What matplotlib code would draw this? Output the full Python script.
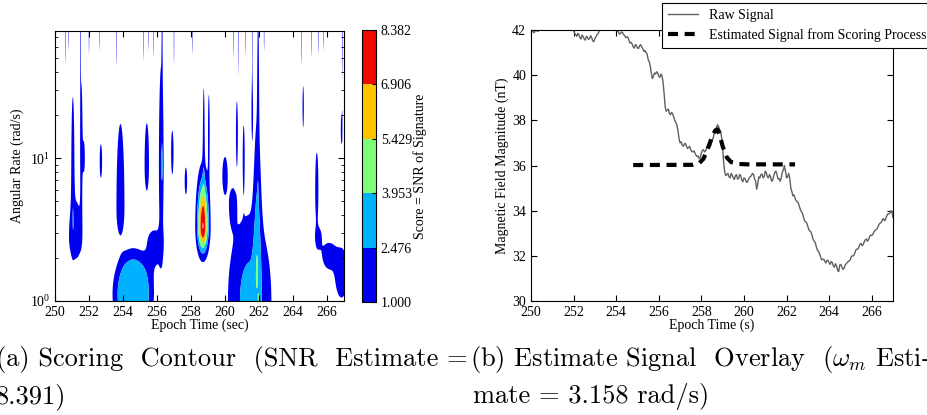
import numpy as np
import matplotlib
matplotlib.use('Agg')
import matplotlib.pyplot as plt

plt.rcParams['font.family'] = ['Liberation Serif', 'DejaVu Serif']
plt.rcParams['mathtext.fontset'] = 'stix'
plt.rcParams['xtick.direction'] = 'in'
plt.rcParams['ytick.direction'] = 'in'
plt.rcParams['xtick.top'] = True
plt.rcParams['ytick.right'] = True
plt.rcParams['xtick.major.size'] = 4
plt.rcParams['ytick.major.size'] = 4
plt.rcParams['xtick.minor.size'] = 2
plt.rcParams['ytick.minor.size'] = 2
plt.rcParams['font.size'] = 10

# score levels shown on the colour bar
levels = [1.000, 2.476, 3.953, 5.429, 6.906, 8.382]

# features of the scoring surface:
# centre time (s), centre log10 rate, width in t, spread down, spread up, peak score, profile exponent
blob_t = [251.2, 251.05, 251.55, 252.7, 253.85, 255.4, 256.25, 256.3, 254.6, 255.85,
          256.9, 257.7, 258.7, 258.75, 259.05, 260.0, 260.45, 260.7, 261.1, 261.6,
          261.45, 261.9, 261.95, 261.98, 265.4, 265.5, 266.1, 266.85, 264.6, 266.85,
          251.7]
blob_ly = [0.45, 0.95, 1.1, 0.98, 0.65, 0.95, 0.95, 0.95, 0.05, 0.4,
           1.04, 0.84, 0.52, 1.15, 1.2, 0.88, 0.68, 1.18, 1.03, 1.33,
           0.0, 0.5, 1.5, 0.0, 0.78, 0.45, 0.33, 0.2, 1.36, 1.2,
           1.0]
blob_st = [0.32, 0.07, 0.06, 0.06, 0.2, 0.11, 0.11, 0.04, 0.95, 0.35,
           0.06, 0.06, 0.22, 0.05, 0.05, 0.12, 0.15, 0.05, 0.05, 0.04,
           0.85, 0.16, 0.04, 0.04, 0.08, 0.15, 0.3, 0.3, 0.04, 0.04,
           0.05]
blob_sd = [0.13, 0.3, 0.3, 0.1, 0.16, 0.15, 0.45, 0.06, 0.3, 0.12,
           0.13, 0.08, 0.12, 0.25, 0.25, 0.1, 0.1, 0.2, 0.18, 0.15,
           0.3, 0.4, 0.4, 0.05, 0.2, 0.06, 0.08, 0.14, 0.15, 0.1,
           0.08]
blob_su = [0.21, 0.38, 0.35, 0.1, 0.5, 0.25, 0.55, 0.06, 0.25, 0.08,
           0.13, 0.08, 0.22, 0.35, 0.25, 0.1, 0.08, 0.2, 0.18, 0.15,
           0.4, 0.6, 0.5, 0.05, 0.22, 0.05, 0.06, 0.13, 0.15, 0.1,
           0.1]
blob_peak = [2.0, 2.2, 2.0, 2.0, 2.0, 2.0, 2.2, 1.2, 3.8, 2.0,
             2.0, 2.0, 8.39, 1.6, 1.6, 2.2, 2.0, 1.8, 1.8, 1.6,
             3.1, 2.2, 1.5, 0.6, 2.0, 2.0, 2.2, 2.2, 1.6, 1.6,
             1.8]
blob_p = [2, 2, 2, 2, 2, 2, 2, 2, 4, 2,
          2, 2, 2, 2, 2, 2, 2, 2, 2, 2,
          2, 2, 2, 2, 2, 2, 2, 2, 2, 2,
          2]

# faint slivers hanging from the top edge: time and how far down (log10 rate)
sliver_t = [250.6, 250.8, 251.5, 252.0, 252.6, 253.6, 255.2, 255.5, 255.8, 256.3, 257.0,
            258.1, 260.5, 260.8, 261.2, 261.6, 262.3, 264.5, 265.1, 265.5, 265.8, 266.9]
sliver_lo = [1.65, 1.75, 1.7, 1.72, 1.75, 1.7, 1.68, 1.75, 1.7, 1.5, 1.65,
             1.72, 1.7, 1.6, 1.72, 1.68, 1.75, 1.65, 1.7, 1.72, 1.75, 1.55]

# panel (b): raw magnetometer signal, samples on the 0.1 s marks from 250 s to 267 s
raw_b = [41.95, 41.92, 41.97, 41.94, 42.04, 42.20, 42.30, 42.40, 42.35, 42.50,
         42.45, 42.30, 42.45, 42.40, 42.30, 42.35, 42.20, 42.25, 42.10, 42.03,
         41.98, 41.80, 41.85, 41.65, 41.78, 41.60, 41.72, 41.58, 41.75, 41.52,
         41.62, 41.80, 41.95, 42.05, 42.20, 42.30, 42.25, 42.35, 42.20, 42.10,
         41.98, 41.92, 41.85, 41.88, 41.75, 41.70, 41.55, 41.45, 41.25, 41.35,
         41.20, 41.30, 41.25, 41.05, 41.00, 40.70, 40.40, 39.85, 40.10, 40.15,
         39.95, 40.05, 39.70, 38.60, 38.45, 38.30, 38.35, 38.15, 37.90, 37.55,
         37.00, 36.90, 36.95, 36.85, 36.80, 36.70, 36.60, 36.55, 36.40, 36.30,
         36.55, 36.70, 36.65, 36.85, 36.80, 37.10, 37.40, 37.65, 37.75, 37.55,
         36.80, 35.70, 35.60, 35.50, 35.65, 35.45, 35.55, 35.40, 35.60, 35.35,
         35.45, 35.30, 35.35, 35.50, 35.65, 35.40, 34.95, 35.50, 35.60, 35.45,
         35.75, 35.50, 35.60, 35.30, 35.55, 35.75, 35.40, 35.30, 35.70, 36.00,
         35.45, 35.65, 35.00, 34.65, 34.55, 34.40, 34.20, 33.95, 33.70, 33.50,
         33.30, 33.10, 32.90, 32.65, 32.40, 32.20, 31.95, 31.85, 31.75, 31.80,
         31.70, 31.75, 31.55, 31.65, 31.35, 31.60, 31.50, 31.45, 31.65, 31.75,
         31.85, 32.00, 32.10, 32.30, 32.40, 32.55, 32.50, 32.70, 32.65, 32.85,
         32.90, 33.05, 33.15, 33.30, 33.45, 33.60, 33.55, 33.75, 33.85, 34.00,
         33.70]
# samples half-way between the 0.1 s marks
raw_mid = [41.99, 41.88, 42.00, 41.96, 42.15, 42.22, 42.38, 42.30, 42.45, 42.40,
           42.42, 42.32, 42.50, 42.33, 42.28, 42.30, 42.15, 42.20, 42.00, 42.05,
           41.85, 41.72, 41.80, 41.60, 41.70, 41.55, 41.68, 41.62, 41.66, 41.48,
           41.70, 41.83, 42.02, 42.10, 42.28, 42.20, 42.32, 42.25, 42.18, 41.98,
           41.97, 41.82, 41.92, 41.80, 41.66, 41.68, 41.42, 41.38, 41.20, 41.32,
           41.18, 41.35, 41.18, 41.10, 40.95, 40.60, 40.10, 39.95, 40.05, 40.10,
           39.90, 40.00, 39.20, 38.40, 38.50, 38.25, 38.30, 38.00, 37.80, 37.20,
           37.05, 36.85, 36.98, 36.75, 36.85, 36.62, 36.65, 36.45, 36.42, 36.35,
           36.68, 36.60, 36.78, 36.90, 36.90, 37.20, 37.55, 37.80, 37.60, 37.25,
           36.10, 35.55, 35.65, 35.45, 35.58, 35.38, 35.60, 35.42, 35.55, 35.28,
           35.42, 35.25, 35.45, 35.55, 35.60, 35.30, 35.20, 35.45, 35.62, 35.50,
           35.68, 35.45, 35.50, 35.35, 35.70, 35.60, 35.42, 35.45, 35.80, 35.75,
           35.50, 35.45, 34.85, 34.70, 34.45, 34.35, 34.05, 33.88, 33.55, 33.45,
           33.15, 33.05, 32.72, 32.58, 32.25, 32.10, 31.82, 31.85, 31.68, 31.80,
           31.62, 31.70, 31.50, 31.55, 31.30, 31.62, 31.40, 31.58, 31.70, 31.78,
           31.98, 32.00, 32.25, 32.30, 32.52, 32.45, 32.62, 32.75, 32.72, 32.92,
           32.95, 33.12, 33.20, 33.40, 33.48, 33.65, 33.62, 33.85, 33.88, 33.95]
raw = np.empty(len(raw_b) + len(raw_mid))
raw[0::2] = raw_b
raw[1::2] = raw_mid
raw_t = np.linspace(250, 267, len(raw))

# estimated signal from the scoring process
est_t = [254.8, 257.6, 257.9, 258.1, 258.3, 258.5, 258.65, 258.75, 258.85, 259.0, 259.2, 259.4, 259.7, 260.2, 262.4]
est_b = [36.02, 36.03, 36.1, 36.3, 36.75, 37.25, 37.55, 37.6, 37.4, 36.85, 36.35, 36.15, 36.07, 36.05, 36.05]

# build the scoring surface
tg = np.linspace(250, 267, 1701)
lg = np.linspace(0, 1.89, 400)
T, L = np.meshgrid(tg, lg)
Z = np.zeros_like(T)
for t0, l0, st, sd, su, pk, p in zip(blob_t, blob_ly, blob_st, blob_sd, blob_su, blob_peak, blob_p):
    sl = np.where(L < l0, sd, su)
    r2 = ((T - t0) / st) ** 2 + ((L - l0) / sl) ** 2
    Z += pk * np.exp(-0.5 * r2 ** (p / 2))
for t0, lo in zip(sliver_t, sliver_lo):
    r2 = ((T - t0) / 0.02) ** 2 + ((L - 1.95) / ((1.95 - lo) / 0.72)) ** 2
    Z += 1.3 * np.exp(-0.5 * r2)

fig = plt.figure(figsize=(9.28, 4.15), dpi=100)

ax1 = fig.add_axes([55 / 928, 114 / 415, 289 / 928, 270 / 415])
cs = ax1.contourf(T, 10 ** L, Z, levels=levels, cmap='jet', antialiased=True)
ax1.set_yscale('log')
ax1.set_xlim(250, 267)
ax1.set_ylim(1, 10 ** 1.89)
ax1.set_xticks(range(250, 267, 2))
ax1.set_xlabel('Epoch Time (sec)', labelpad=0)
ax1.set_ylabel('Angular Rate (rad/s)', labelpad=4)

cax = fig.add_axes([362 / 928, 113 / 415, 14 / 928, 272 / 415])
cb = fig.colorbar(cs, cax=cax, ticks=levels, format='%.3f')
cb.set_label('Score = SNR of Signature', labelpad=1)
cax.tick_params(direction='in', length=3)

ax2 = fig.add_axes([531 / 928, 114 / 415, 362 / 928, 271 / 415])
ax2.plot(raw_t, raw, color='#606060', lw=1, label='Raw Signal')
ax2.plot(est_t, est_b, color='black', lw=3, linestyle=(0, (2.4, 1.6)),
         label='Estimated Signal from Scoring Process')
ax2.set_xlim(250, 267)
ax2.set_ylim(30, 42)
ax2.set_xticks(range(250, 267, 2))
ax2.set_yticks(range(30, 43, 2))
ax2.set_xlabel('Epoch Time (s)', labelpad=0)
ax2.set_ylabel('Magnetic Field Magnitude (nT)', labelpad=2)
leg = ax2.legend(loc='upper left', bbox_to_anchor=(662 / 928, 1 - 3 / 415),
                 bbox_transform=fig.transFigure, fancybox=False, framealpha=1,
                 edgecolor='black', handlelength=2.2, borderaxespad=0, fontsize=10)
leg.get_frame().set_linewidth(0.8)

# sub-figure captions
cap = dict(family='cmr10', fontsize=19, va='baseline', math_fontfamily='cm')
fig.text(-0.004, (415 - 366) / 415, '(a) Scoring  Contour  (SNR  Estimate =', **cap)
fig.text(-0.004, (415 - 403) / 415, '8.391)', **cap)
fig.text(470 / 928, (415 - 366) / 415, r'(b) Estimate Signal  Overlay  ($\omega_m$ Esti-', **cap)
fig.text(473 / 928, (415 - 403) / 415, 'mate = 3.158 rad/s)', **cap)

fig.savefig('out.png', dpi=100)
